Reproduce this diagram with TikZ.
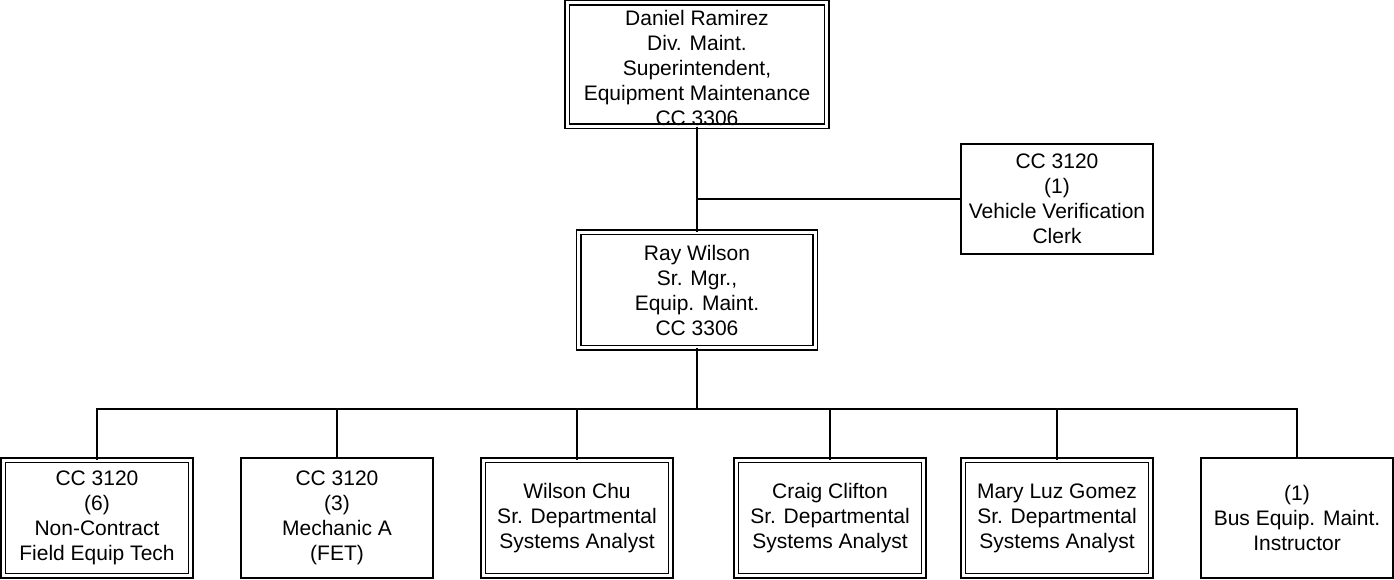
\documentclass[tikz,border=0pt]{standalone}
\usepackage{fontspec}
\setmainfont{Liberation Sans}
\begin{document}
\begin{tikzpicture}[x=1pt,y=-1pt,
  txt/.style={font=\fontsize{21}{25}\selectfont, align=center, inner sep=0pt},
  dbox/.style={txt, draw, double, double distance=3.2pt, line width=1.3pt},
  sbox/.style={txt, draw, line width=1.3pt},
  conn/.style={line width=1.3pt}]
\useasboundingbox (0,0) rectangle (1394,580);
% top and middle
\node[dbox, minimum width=259.5pt, minimum height=120.5pt] (top) at (697,64.5)
  {\rule{0pt}{23pt}Daniel Ramirez\\Div. Maint.\\Superintendent,\\Equipment Maintenance\\CC 3306};
\node[dbox, minimum width=236.5pt, minimum height=115.5pt] (mid) at (697,290)
  {Ray Wilson\\Sr. Mgr.,\\Equip. Maint.\\CC 3306};
\node[sbox, minimum width=192pt, minimum height=110pt] (clerk) at (1057,199)
  {CC 3120\\(1)\\Vehicle Verification\\Clerk};
% bottom row
\node[dbox, minimum width=187.5pt, minimum height=115.5pt] (b1) at (97,518)
  {CC 3120\\(6)\\Non-Contract\\Field Equip Tech};
\node[sbox, minimum width=192pt, minimum height=120pt] (b2) at (337,518)
  {CC 3120\\(3)\\Mechanic A\\(FET)};
\node[dbox, minimum width=187.5pt, minimum height=115.5pt] (b3) at (577,518)
  {Wilson Chu\\Sr. Departmental\\Systems Analyst};
\node[dbox, minimum width=187.5pt, minimum height=115.5pt] (b4) at (830,518)
  {Craig Clifton\\Sr. Departmental\\Systems Analyst};
\node[dbox, minimum width=187.5pt, minimum height=115.5pt] (b5) at (1057,518)
  {Mary Luz Gomez\\Sr. Departmental\\Systems Analyst};
\node[sbox, minimum width=192pt, minimum height=120pt] (b6) at (1297,518)
  {(1)\\Bus Equip. Maint.\\Instructor};
% connectors
\coordinate (j1) at (697,199);
\coordinate (bus) at (697,409);
\draw[conn] (top.south) -- (mid.north);
\draw[conn] (j1) -- (clerk.west);
\draw[conn] (mid.south) -- (bus);
\draw[conn] (b1.north) |- (bus) -| (b6.north);
\draw[conn] (b2.north) -- (b2.north |- bus);
\draw[conn] (b3.north) -- (b3.north |- bus);
\draw[conn] (b4.north) -- (b4.north |- bus);
\draw[conn] (b5.north) -- (b5.north |- bus);
\end{tikzpicture}
\end{document}
